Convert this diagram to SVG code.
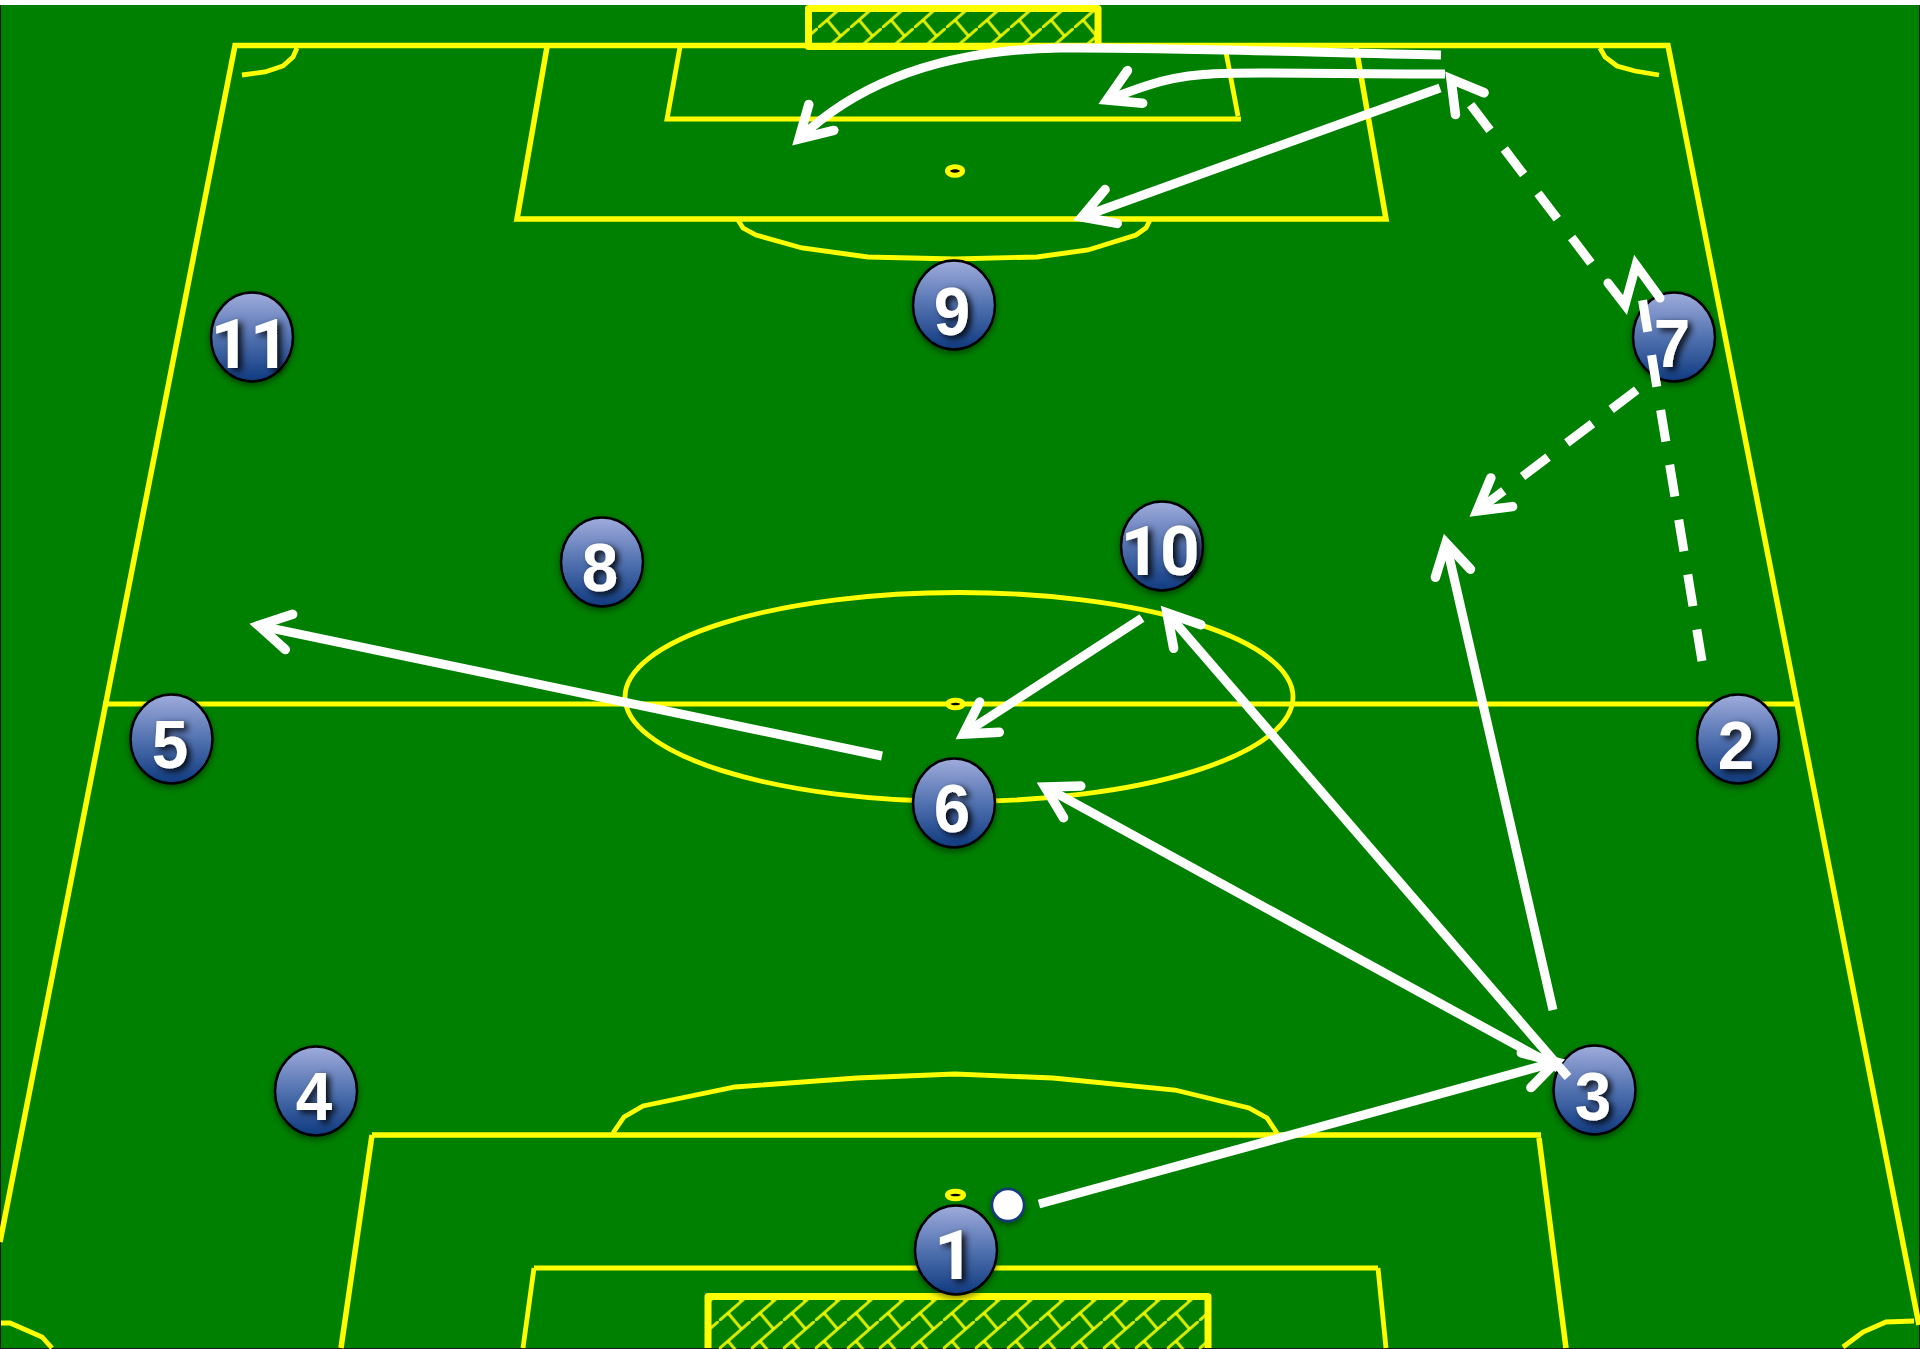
<svg xmlns="http://www.w3.org/2000/svg" width="1920" height="1349" viewBox="0 0 1920 1349">
<style>
.ln{fill:none;stroke:#ffff00;stroke-width:5.5;stroke-linejoin:miter}
.thin{stroke-width:4.8}
.frame{fill:none;stroke:#ffff00;stroke-width:7;stroke-linejoin:round}
.spot{fill:#000;stroke:#ffff00;stroke-width:5}
.disc{fill:url(#ball);stroke:#000;stroke-width:2.5;filter:url(#soft)}
.num{font-family:"Liberation Sans",Arial,sans-serif;font-weight:700;font-size:69px;fill:#fff;text-anchor:middle;filter:url(#tshadow)}
.rb{font-family:Roboto,"Liberation Sans",Arial,sans-serif;font-weight:700;font-size:69px}
.ar{fill:none;stroke:#fff;stroke-width:9;stroke-linejoin:miter}
.dash{stroke-dasharray:32 23.6}
.hd{fill:none;stroke:#fff;stroke-width:9.5;stroke-linecap:round;stroke-linejoin:miter;stroke-miterlimit:8}
</style>
<defs>
<linearGradient id="ball" x1="0" y1="0" x2="0" y2="1">
<stop offset="0" stop-color="#a0acdc"/>
<stop offset="0.5" stop-color="#5272b0"/>
<stop offset="1" stop-color="#0f3a80"/>
</linearGradient>
<filter id="soft" x="-30%" y="-30%" width="160%" height="160%"><feDropShadow dx="0" dy="3" stdDeviation="3" flood-color="#000" flood-opacity="0.45"/></filter>
<filter id="tshadow" x="-40%" y="-40%" width="180%" height="180%"><feDropShadow dx="4" dy="3" stdDeviation="3.5" flood-color="#000" flood-opacity="0.9"/></filter>
<filter id="netblur" x="0" y="0" width="100%" height="100%"><feGaussianBlur stdDeviation="0.6"/></filter>
<path id="open" class="hd" d="M-31,-18 L0,0 L-31,18"/>
<pattern id="netTop" patternUnits="userSpaceOnUse" x="17.9" y="0" width="32" height="28">
<g fill="none" stroke="#ffff00" stroke-opacity="0.85" stroke-width="3">
<path d="M-4,31.5 L36,-3.5"/><path d="M9.14,20 L22.6,36"/><path d="M9.14,-8 L22.6,8"/>
</g>
</pattern>
<pattern id="netBot" patternUnits="userSpaceOnUse" x="718.86" y="1293" width="32" height="28">
<g fill="none" stroke="#ffff00" stroke-opacity="0.85" stroke-width="3">
<path d="M-4,31.5 L36,-3.5"/><path d="M9.14,20 L22.6,36"/><path d="M9.14,-8 L22.6,8"/>
</g>
</pattern>
</defs>
<rect width="1920" height="1349" fill="#1a1a1a"/>
<rect x="0" y="0" width="1920" height="5" fill="#ffffff"/>
<rect x="1" y="5" width="1918" height="1343" fill="#008000"/>
<g id="pitch">
<rect x="808" y="8" width="290" height="38" fill="url(#netTop)" filter="url(#netblur)"/>
<rect x="708" y="1296" width="500" height="53" fill="url(#netBot)" filter="url(#netblur)"/>
<path class="ln" d="M0,1242 L235,45.5 H1668 L1919,1325"/>
<path class="ln thin" d="M103,704 H1797"/>
<ellipse class="ln thin" cx="959" cy="697" rx="334" ry="104.5"/>
<path class="ln" d="M547,47 L517,219 H1386 L1356,47"/>
<path class="ln thin" d="M680,47 L667,119 H1241 M1225,47 L1238,116"/>
<path class="ln thin" d="M738,220 L743,228 L756,235 L802,248 L868,257 L955,259 L1037,257 L1088,250 L1136,235 L1146,228 L1150,220"/>
<path class="ln thin" d="M613,1133 L624,1117 L643,1106 L735,1087 L857,1078 L955,1074 L1053,1078 L1175,1090 L1249,1108 L1267,1118 L1277,1133"/>
<path class="ln" d="M372,1135 H1541 M372,1135 L341,1348 M1539,1138 L1566,1348"/>
<path class="ln thin" d="M534,1268 H1378 M534,1268 L523,1348 M1378,1268 L1386,1348"/>
<path class="ln thin" d="M242,75 L265,72 L283,66 L293,57 L297,48"/>
<path class="ln thin" d="M1600,48 L1605,57 L1617,66 L1635,71 L1659,75"/>
<path class="ln thin" d="M1,1323 L10,1323 L42,1337 L52,1348"/>
<path class="ln thin" d="M1914,1321 L1886,1322 L1863,1332 L1843,1347"/>
<path class="frame" d="M808.5,46.5 V8.5 H1098 V46.5 Z"/>
<path class="frame" d="M708,1348 V1296.5 H1208 V1348"/>
<ellipse class="spot" cx="955" cy="171" rx="7.5" ry="4.25"/>
<ellipse class="spot" cx="955.5" cy="704" rx="7.5" ry="3.75"/>
<ellipse class="spot" cx="955.5" cy="1195" rx="8" ry="3.75"/>
</g>
<g id="ball-marker"><ellipse cx="1008" cy="1205" rx="16" ry="16" fill="#fff" stroke="#17397f" stroke-width="2.5" filter="url(#soft)"/></g>
<g id="node-1"><ellipse class="disc" cx="956" cy="1250" rx="41" ry="44.5"/><text class="num rb" x="954" y="1279">1</text></g>
<g id="node-2"><ellipse class="disc" cx="1738" cy="739" rx="41" ry="44.5"/><text class="num" transform="translate(1736 769) scale(.95 1)">2</text></g>
<g id="node-3"><ellipse class="disc" cx="1594.5" cy="1090" rx="41" ry="44.5"/><text class="num" transform="translate(1593 1120) scale(.95 1)">3</text></g>
<g id="node-4"><ellipse class="disc" cx="316" cy="1091" rx="41" ry="44.5"/><text class="num" transform="translate(314 1120) scale(.95 1)">4</text></g>
<g id="node-5"><ellipse class="disc" cx="171.5" cy="739" rx="41" ry="44.5"/><text class="num" transform="translate(170 768) scale(.95 1)">5</text></g>
<g id="node-6"><ellipse class="disc" cx="954" cy="803" rx="41" ry="44.5"/><text class="num" transform="translate(952 832) scale(.95 1)">6</text></g>
<g id="node-7"><ellipse class="disc" cx="1674" cy="337" rx="41" ry="44.5"/><text class="num" transform="translate(1672 367) scale(.95 1)">7</text></g>
<g id="node-8"><ellipse class="disc" cx="602" cy="562" rx="41" ry="44.5"/><text class="num" transform="translate(600 591) scale(.95 1)">8</text></g>
<g id="node-9"><ellipse class="disc" cx="954" cy="305" rx="41" ry="44.5"/><text class="num" transform="translate(952 335) scale(.95 1)">9</text></g>
<g id="node-10"><ellipse class="disc" cx="1162" cy="546" rx="41" ry="44.5"/><text class="num rb" x="1160" y="575">10</text></g>
<g id="node-11"><ellipse class="disc" cx="252" cy="337" rx="41" ry="44.5"/><text class="num rb" x="250" y="368">11</text></g>
<g id="connectors">
<path class="ar" d="M1039,1204 L1556,1062"/><use href="#open" transform="translate(1556 1062) rotate(-15.4)"/>
<path class="ar" d="M1558,1068 L1045,787"/><use href="#open" transform="translate(1045 787) rotate(208.7)"/>
<path class="ar" d="M1568,1077 L1167,613"/><use href="#open" transform="translate(1167 613) rotate(229.2)"/>
<path class="ar" d="M1553,1010 L1446,543"/><use href="#open" transform="translate(1446 543) rotate(257.1)"/>
<path class="ar" d="M1142,618 L963.5,734"/><use href="#open" transform="translate(963.5 734) rotate(147)"/>
<path class="ar" d="M882,756 L258.6,625.6"/><use href="#open" transform="translate(258.6 625.6) rotate(191.8)"/>
<path class="ar dash" d="M1702,661 L1642,297"/>
<path class="ar" stroke-linecap="round" d="M1660,298 L1636,265 L1625,305 L1608,283"/>
<path class="ar dash" d="M1591,263 L1451,79"/><use href="#open" transform="translate(1451 79) rotate(232.7)"/>
<path class="ar dash" d="M1636.7,390 L1477,511"/><use href="#open" transform="translate(1477 511) rotate(142.8)"/>
<path class="ar" d="M1441,55 C1300,52 1150,47 1060,48 C930,50 850,90 799,139"/><use href="#open" transform="translate(799 139) rotate(136)"/>
<path class="ar" d="M1445,74 C1380,74 1310,73 1261,73 C1220,73 1185,73 1149,85 C1130,91 1118,96 1107,100"/><use href="#open" transform="translate(1107 100) rotate(155)"/>
<path class="ar" d="M1440,88 L1082,217"/><use href="#open" transform="translate(1082 217) rotate(160.2)"/>
</g>
</svg>
